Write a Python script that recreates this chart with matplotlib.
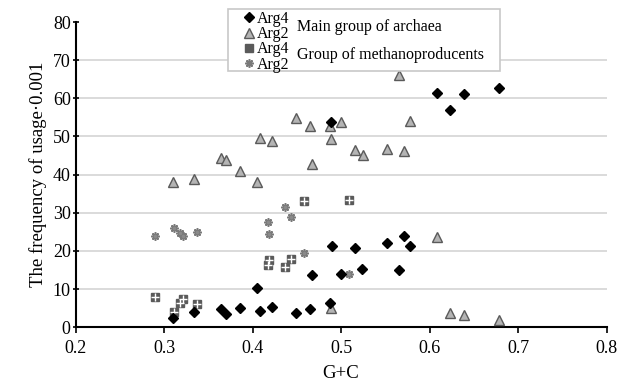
import matplotlib
matplotlib.use('Agg')
import matplotlib.pyplot as plt
from matplotlib.lines import Line2D
from matplotlib.patches import Rectangle

plt.rcParams['font.family'] = ['Liberation Serif', 'DejaVu Serif']

# Main group of archaea (same organisms for both codons)
main_gc = [0.3105, 0.334, 0.364, 0.3705, 0.386, 0.4055, 0.409, 0.4225, 0.449,
           0.4655, 0.4675, 0.487, 0.4885, 0.4897, 0.4995, 0.5153, 0.524,
           0.5515, 0.566, 0.571, 0.5785, 0.6085, 0.6235, 0.6385, 0.679]
main_arg4 = [2.4, 3.9, 4.8, 3.4, 5.1, 10.2, 4.4, 5.2, 3.8,
             4.8, 13.6, 6.3, 53.7, 21.2, 14.0, 20.9, 15.2,
             22.1, 14.9, 23.8, 21.2, 61.3, 56.9, 61.1, 62.6]
main_arg2_gc = [0.3105, 0.334, 0.364, 0.3705, 0.386, 0.4055, 0.409, 0.4225, 0.449,
                0.4655, 0.4675, 0.4875, 0.4885, 0.489, 0.4995, 0.5155, 0.5245,
                0.5515, 0.566, 0.5715, 0.5785, 0.608, 0.6235, 0.6385, 0.679]
main_arg2 = [38.2, 38.9, 44.3, 43.8, 41.0, 38.0, 49.7, 48.9, 54.9,
             52.8, 42.7, 52.8, 5.0, 49.3, 53.7, 46.5, 45.2,
             46.8, 66.1, 46.2, 54.0, 23.7, 3.8, 3.2, 2.0]

# Group of methanoproducents
meth_gc = [0.290, 0.311, 0.318, 0.3215, 0.3373, 0.4173, 0.419, 0.4365,
           0.4437, 0.458, 0.5085]
meth_arg4 = [7.9, 3.9, 6.3, 7.5, 6.0, 16.2, 17.7, 15.7, 17.9, 33.0, 33.4]
meth_arg2 = [24.0, 26.1, 24.8, 24.0, 25.0, 27.5, 24.4, 31.4, 29.0, 19.6, 14.0]

fig = plt.figure(figsize=(6.24, 3.86), dpi=100)
ax = fig.add_axes([0.121, 0.152, 0.851, 0.791])

tri_style = dict(marker='^', ms=7.5, mfc='#b4b4b4', mec='#5a5a5a', mew=1.0, ls='none')
dia_style = dict(marker='D', ms=5.5, mfc='black', mec='black', ls='none')
sq_style = dict(marker='s', ms=5.5, mfc='#5a5a5a', mec='#5a5a5a', ls='none')
ast_style = dict(marker=(8, 2, 0), ms=6, mec='#7a7a7a', mew=1.2, ls='none')

ax.plot(main_arg2_gc, main_arg2, zorder=3, **tri_style)
ax.plot(main_gc, main_arg4, zorder=4, **dia_style)
ax.plot(meth_gc, meth_arg4, zorder=3, **sq_style)
# white cross over the squares gives the 4-cell look
ax.plot(meth_gc, meth_arg4, marker='+', ms=5.5, mec='white', mew=1.0, ls='none', zorder=3.5)
ax.plot(meth_gc, meth_arg2, zorder=3, **ast_style)
ax.plot(meth_gc, meth_arg2, marker='o', ms=2.5, mfc='#8a8a8a', mec='none', ls='none', zorder=3.5)

ax.set_xlim(0.2, 0.8)
ax.set_ylim(0, 80)
ax.set_xticks([0.2, 0.3, 0.4, 0.5, 0.6, 0.7, 0.8])
ax.set_yticks(range(0, 81, 10))
ax.set_xticklabels(['0.2', '0.3', '0.4', '0.5', '0.6', '0.7', '0.8'])
ax.tick_params(labelsize=13, width=1.2, length=4, color='black')
ax.tick_params(axis='y', direction='inout', length=5, pad=1)
ax.tick_params(axis='x', pad=5)

for y in range(10, 80, 10):
    ax.axhline(y, color='#d4d4d4', lw=1.2, zorder=1)

for s in ['top', 'right']:
    ax.spines[s].set_visible(False)
for s in ['left', 'bottom']:
    ax.spines[s].set_linewidth(1.5)

ax.set_xlabel('G+C', fontsize=13.5, labelpad=6)
ax.set_ylabel('The frequency of usage·0.001', fontsize=13.5, labelpad=4)

# legend box
box = Rectangle((228 / 624, 1 - 71 / 386), 272 / 624, 62 / 386,
                transform=fig.transFigure, facecolor='white',
                edgecolor='#c8c8c8', lw=1.2, zorder=2)
fig.patches.append(box)

handles = [
    Line2D([], [], **dia_style),
    Line2D([], [], **tri_style),
    Line2D([], [], **sq_style),
    Line2D([], [], **ast_style),
]
leg = fig.legend(handles, ['Arg4', 'Arg2', 'Arg4', 'Arg2'], loc='upper left',
                 bbox_to_anchor=(245 / 624, 1 - 11 / 386), frameon=False,
                 fontsize=11.5, handlelength=0.5, handletextpad=0.25,
                 labelspacing=-0.05, borderpad=0, borderaxespad=0)
leg.set_zorder(5)

fig.text(297 / 624, 1 - 27 / 386, 'Main group of archaea', fontsize=11.5,
         va='center', ha='left', zorder=5)
fig.text(297 / 624, 1 - 55 / 386, 'Group of methanoproducents', fontsize=11.5,
         va='center', ha='left', zorder=5)

fig.savefig('out.png', dpi=100)
